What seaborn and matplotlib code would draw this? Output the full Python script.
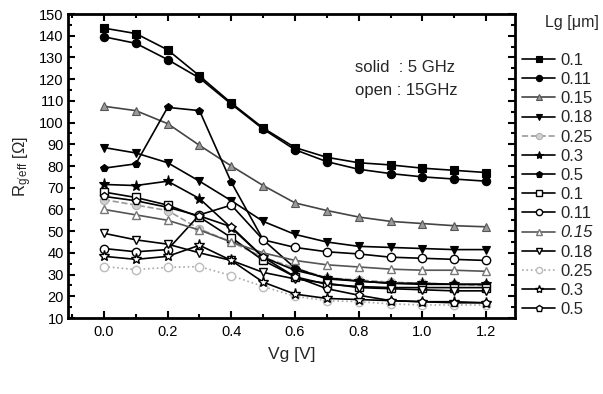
import matplotlib
matplotlib.use("Agg")
import matplotlib.pyplot as plt
import seaborn as sns
from matplotlib.ticker import FormatStrFormatter, MultipleLocator

# gate voltage [V]
vg = [0.0, 0.1, 0.2, 0.3, 0.4, 0.5, 0.6, 0.7, 0.8, 0.9, 1.0, 1.1, 1.2]

lg_labels = ["0.1", "0.11", "0.15", "0.18", "0.25", "0.3", "0.5"]

# solid markers : 5 GHz
r_5g_01 = [143.5, 141, 133.5, 121.5, 109, 97.5, 88.5, 84, 81.5, 80.5, 79, 78, 77]
r_5g_011 = [139.5, 136.5, 129, 120.5, 108.5, 97, 87.5, 82, 78.5, 76.5, 75, 74, 73]
r_5g_015 = [107.5, 105.5, 99.5, 89.5, 80, 71, 63, 59.5, 56.5, 54.5, 53.5, 52.5, 52]
r_5g_018 = [88.5, 86, 81.5, 73, 64, 54.5, 48.5, 45, 43, 42.5, 42, 41.5, 41.5]
r_5g_025 = [64.5, 62, 59.5, 51, 45, 38, 33, 28.5, 27.5, 26.5, 26, 25.5, 25]
r_5g_03 = [71.5, 71, 73, 65, 51.5, 38, 32, 28.5, 27, 26, 26, 25.5, 25.5]
r_5g_05 = [79, 81, 107, 105.5, 72.5, 46, 33, 28, 27, 26, 25.5, 25.5, 25.5]

# open markers : 15 GHz
r_15g_01 = [68, 65.5, 62, 56.5, 47, 36.5, 29, 25.5, 24.5, 24, 24, 24, 24]
r_15g_011 = [42, 40.5, 41.5, 57.5, 62, 46, 42.5, 40.5, 39.5, 38, 37.5, 37, 36.5]
r_15g_015 = [60, 57.5, 55, 50.5, 45, 40, 36.5, 34.5, 33.5, 32.5, 32, 32, 31.5]
r_15g_018 = [49, 46, 44, 40, 36.5, 31, 28, 26, 24, 23.5, 23, 22.5, 22.5]
r_15g_025 = [33.7, 32.3, 33.3, 33.7, 29.5, 24.5, 20, 18, 17.5, 16.5, 16, 16, 16]
r_15g_03 = [38.4, 37, 38.4, 43.5, 36.5, 26.5, 21, 19, 18.5, 18, 17.5, 17.5, 17]
r_15g_05 = [66, 64, 61, 57, 52, 38, 29, 23.5, 20.5, 18, 17.5, 17, 17]

solid_series = [r_5g_01, r_5g_011, r_5g_015, r_5g_018, r_5g_025, r_5g_03, r_5g_05]
open_series = [r_15g_01, r_15g_011, r_15g_015, r_15g_018, r_15g_025, r_15g_03, r_15g_05]

markers = ["s", "o", "^", "v", "o", "*", "p"]
solid_face = ["black", "black", "#9a9a9a", "black", "#d0d0d0", "black", "black"]
solid_edge = ["black", "black", "#555555", "black", "#b0b0b0", "black", "black"]
solid_line = ["black", "black", "#444444", "black", "#999999", "black", "black"]
solid_ls = ["-", "-", "-", "-", "--", "-", "-"]
open_edge = ["black", "black", "#777777", "black", "#bbbbbb", "black", "black"]
open_line = ["black", "black", "#555555", "black", "#aaaaaa", "black", "black"]
open_ls = ["-", "-", "-", "-", ":", "-", "-"]


def main() -> None:
    sns.set_theme(style="ticks")
    plt.rcParams["font.family"] = ["Liberation Sans", "DejaVu Sans"]
    plt.rcParams["mathtext.fontset"] = "custom"
    plt.rcParams["mathtext.rm"] = "Liberation Sans"
    plt.rcParams["mathtext.it"] = "Liberation Sans:italic"

    fig = plt.figure(figsize=(6.03, 3.94), dpi=100)
    ax = fig.add_axes([68 / 603, 1 - 318 / 394, (515 - 68) / 603, (318 - 14) / 394])

    for i, vals in enumerate(solid_series):
        size = 8 if markers[i] == "*" else 6
        sns.lineplot(x=vg, y=vals, ax=ax, color=solid_line[i], linestyle=solid_ls[i],
                     linewidth=1.2, marker=markers[i], markersize=size,
                     markerfacecolor=solid_face[i], markeredgecolor=solid_edge[i],
                     markeredgewidth=0.8, label=lg_labels[i])
    for i, vals in enumerate(open_series):
        size = 8 if markers[i] == "*" else 6
        sns.lineplot(x=vg, y=vals, ax=ax, color=open_line[i], linestyle=open_ls[i],
                     linewidth=1.2, marker=markers[i], markersize=size,
                     markerfacecolor="white", markeredgecolor=open_edge[i],
                     markeredgewidth=1.0, label=lg_labels[i])

    ax.set_xlim(-0.113, 1.291)
    ax.set_ylim(10, 150)
    ax.xaxis.set_major_locator(MultipleLocator(0.2))
    ax.xaxis.set_minor_locator(MultipleLocator(0.1))
    ax.yaxis.set_major_locator(MultipleLocator(10))
    ax.yaxis.set_minor_locator(MultipleLocator(5))
    ax.xaxis.set_major_formatter(FormatStrFormatter("%.1f"))
    ax.tick_params(which="both", direction="in", top=True, right=True, width=1.5, colors="black")
    ax.tick_params(which="major", length=5, labelsize=10.5)
    ax.tick_params(which="minor", length=3)
    ax.tick_params(axis="x", which="major", pad=5)
    ax.tick_params(axis="y", which="major", pad=3)
    for spine in ax.spines.values():
        spine.set_linewidth(2)
        spine.set_color("black")

    ax.set_xlabel("Vg [V]", fontsize=12.5, labelpad=6)
    ax.set_ylabel(r"R$_\mathregular{g'eff}$ [Ω]", fontsize=12, labelpad=4)

    handles, labels = ax.get_legend_handles_labels()
    leg = ax.legend(handles, labels, loc="upper left", bbox_to_anchor=(522 / 603, 1 - 53 / 394),
                    bbox_transform=fig.transFigure, frameon=False, fontsize=12,
                    handlelength=2.0, handletextpad=0.3, labelspacing=0.25, borderpad=0,
                    borderaxespad=0, markerscale=0.75)
    # the open 0.15 entry is set in italics in the original
    leg.get_texts()[9].set_fontstyle("italic")
    fig.text(572 / 603, 1 - 22 / 394, "Lg [μm]", fontsize=11.5, ha="center", va="center")

    fig.text(355 / 603, 1 - 68 / 394, "solid  : 5 GHz", fontsize=12, ha="left", va="center")
    fig.text(355 / 603, 1 - 90 / 394, "open : 15GHz", fontsize=12, ha="left", va="center")

    fig.savefig("out.png", dpi=100)
    plt.close(fig)


if __name__ == "__main__":
    main()
